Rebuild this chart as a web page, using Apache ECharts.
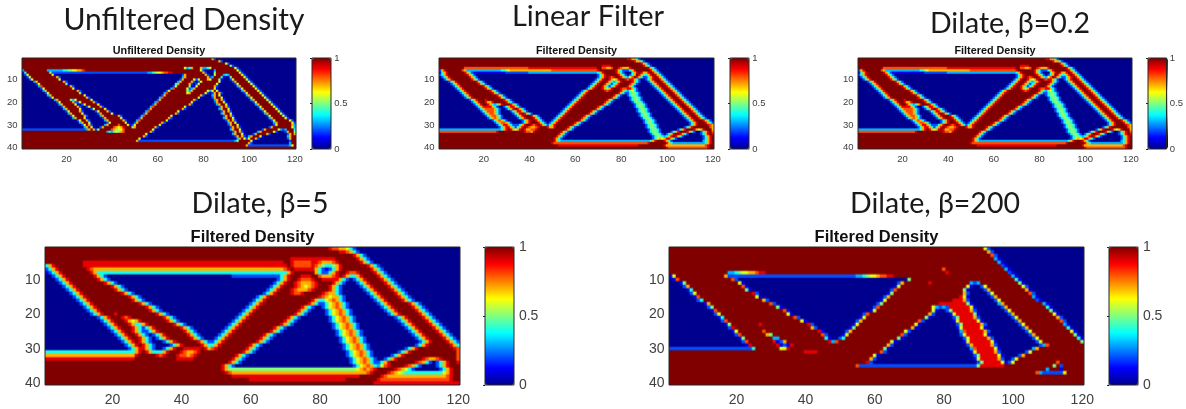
<!DOCTYPE html>
<html>
<head>
<meta charset="utf-8">
<title>Density filters</title>
<style>
  html, body { margin: 0; padding: 0; background: #fff; }
  #page { position: relative; width: 1186px; height: 409px; overflow: hidden; }
  #main { position: absolute; left: 0; top: 0; width: 1186px; height: 409px; z-index: 2; }
  .cells { position: absolute; transform-origin: 0 0; z-index: 1; }
</style>
</head>
<body>
<div id="page"><div id="main"></div></div>
<script src="https://cdn.jsdelivr.net/npm/echarts@6/dist/echarts.min.js"></script>
<script>
// every row is a list of "start column + levels", one letter per cell, a=0 ... k=1,
// the last letter of a token runs on to the next token
var unfilteredRows = [
  "1k84hca","1k87hca","1k90gca","1k92fca",
  "1k72gdeh76k79hddeg84k94gca",
  "1dk12dddddddeeffgghhijk79gcaaaadk95gca",
  "1bek13fc56ddefgghiijjk80hcaaafk96gca",
  "1acgk14gba71chk81hcaagk89dedk97gca",
  "1a3cgk16hca71dhk82hcdk88ebabfk98gca",
  "1a4cgk17gba70chk76gcgk82hgk87fba92cgk99gca",
  "1a6dhk19hca69dhk75hcacgk87gba93chk100gca",
  "1a7cgk20fba68ehk74hcacgk86gba94cgk101gca",
  "1a8dik22hca67cgk74fbbgk85hca95dhk102gca",
  "1a9cgk23gba66dik73gcdhk85gba96cgk103gca",
  "1a10dhk25hca64cgk73fdhk82gdgk86gba97dhk104gca",
  "1a11cgk26fba63dik73ghk81gcachk87hca98cgk105gca",
  "1a12dhk28gba62chk79hca84dhk87gba99dhk106gca",
  "1a13cgk29hca61dik78gba84chk88gba100cgk107gca",
  "1a15dhk22fdgk31gba60chk76hca85dhk88hca101dhk108gca",
  "1a16cgk23hccgk32hca59dik75gba85chk89gba102cgk109gca",
  "1a17dhk24gbacgk34gba58chk74hca86dhk90gba103dhk110gca",
  "1a18chk25hcaacgk35hca57dik72gba87chk90hca104cgk111gca",
  "1a19dhk26gbaaacgk37gba56chk71hca87dhk91gba105dhk112gca",
  "1a20cgk26hca33cgk38hca55dik69gba88chk91hca106cgk113gca",
  "1a21dhk27gba34chk40gba54chk68hca88dhk92gba107dhk114gca",
  "1a22cgk28hca35dhk43hca53dik66gba89chk92hca108cgk115gca",
  "1a23dhk28gba36chk44gba52chk65hca89dhk93gba109dhk116gca",
  "1a25cgk29hca37dhk45hca51dik64gba90chk93hca110cgk118gca",
  "1a26dhk30gba38cgk46gba50chk62hca91dhk94gba111dhk119gc",
  "1a27cgk30hca37dhk43ik47gbcgk61gba91chk95gba111cgk119hd",
  "1a28dhk31gba35chk41ihghjk49fhk59hca92chk95hca109chk119gd",
  "1c29dhk32hcfk40ihfggik58gba92dhk96gba106chk113gdcdk120e",
  "1k38dedfgfhik57hca93chk96hca104dhk111gca116chk120f",
  "1k55gba93dhk97gba102chk108hca117chk120h",
  "1k54hca94chk97hca100dhk105gba117dhk",
  "1k52gba95dhk98gcgk103hca117chk",
  "1k51hc94dfk101gba118ck",
  "1k100hca118dk",
  "1k99hc118dgk",
  "1k"
];

var linearRows = [
  "1k83jjhheca","1k86jhheca","1k89jheca",
  "1k72j76k90jheca",
  "1k12i40j70k72iihhik79jihhhjk92jheca",
  "1chjk11ihd28eefgh50i70j71k78jhecccehjk93jheca",
  "1behjk12jhecb30c40d70ehjk78jhecaaaehjk89jhhjk94jheca",
  "1cehjk13jheca70cehjk79jhecacehk88jheehjk95jheca",
  "1a2cehjk14jheca70cehjk75jijk80jhedgik87jheccehjk96jheca",
  "1a3cehjk15jheca69cehjk75jhghjk82jijk85jhecaacehjk97jheca",
  "1a5cehjk17jheca68cehjk74jhedehjk85jheca92cehjk98jheca",
  "1a6cehjk18jheca67cehjk73jhecehjk84jheca93cehjk99jheca",
  "1a7cehjk20jheca66cehjk72jhecehjk83jheca94cehjk100jheca",
  "1a8cehjk21jheca65cehjk72jhfhjk80jiijk84jheca95cehjk101jheca",
  "1a9cehjk23jheca63cehjk73jijk80jhedfgeca96cehjk102jheca",
  "1a10cehjk24jheca62cehjk79jhecceffeca97cehjk103jheca",
  "1a11cehjk26jheca61cehjk77jhecaaceffeca98cehjk104jheca",
  "1a12cehjk27jheca60cehjk76jheca84ceffeca99cehjk105jheca",
  "1a14cehjk21jk29jheca59cehjk74jheca84ceffeca100cehjk106jheca",
  "1a15cehjk21jhhjk30jheca58cehjk73jheca85ceffeca101cehjk107jheca",
  "1a16cehjk22jhedehjk32jheca57cehjk72jheca86ceffeca102cehjk108jheca",
  "1a17cehjj23jhecaacehjk33jheca56cehjk70jheca86ceffeca103cehjk109jheca",
  "1a18cehii24ihecaacehjk35jheca55cehjk69jheca87ceffeca104cehjk110jheca",
  "1a19cehi25heca32cehjk36jheca54cehjk67jheca87ceffeca105cehjk111jheca",
  "1a20cehiiheca33cehjk38jheca53cehjk66jheca88ceffeca106cehjk112jheca",
  "1a21cehiiheca34cehjk41jheca52cehjk64jheca88ceffeca107cehjk113jheca",
  "1a22cehiheca35cehjk42jheca51cehjk63jheca89ceffeca108cehjk114jheca",
  "1a24cehiheca37cehjk43jheca50cehjk62jheca90ceffeca109cehjk116jheca",
  "1a25cehiiheca37cehjk44jheca49cehjk60jheca90ceffeca110cehjk117jhec",
  "1a26cehjjhec35cehjk41jijk45jhecehjk59jheca91ceffeca110cehjk118jih",
  "1a27cehjjhec35ehjk39jihhijk48jhhjk57jheca91ceffeca108cehjk119ih",
  "1d28ehjk32jhghjk38jhhiijk56jheca92ceffeca105cehjk112jhghjk120h",
  "1i26jk38jiihjk54jheca92ceffeca102cehjk109jheca115cehjk120i",
  "1k53jheca93ceffeca100cehjk106jheca115cehjk120j",
  "1k52jheca94ceffedehjk104jheca116cehjk",
  "1k51jheca94ceghghjk101jheca116cehjk",
  "1k51jhed93ehjk99jheca116dehjk",
  "1k50ji92jk100jhed117ehjk",
  "1k53j88k99jh117ijk",
  "1k100ji118jk"
];

// the beta=0.2 panel reads the same as the linear filter at this size
var dilate02Rows = linearRows;

var dilate5Rows = [
  "1k83jiihhgeca","1k86jjiheca","1k90jheca",
  "1k72j85k91jheca",
  "1k12j70k72ji78j80ihhhijk92jheca",
  "1ehjk12j70jk72ji78j79ihfeefhjk94jheca",
  "1cehjk13jih70ijk73j79hecbcehjk95jheca",
  "1bcehjk14jhe71hjk79heccehjk88jiijk96jheca",
  "1a3cehjk15jheca55c69ehjk75j78k80ihhhijk87jheehjk97jheca",
  "1a4cehjk16jheca68cehjk74jiiijk81j85jhecacehjk98jheca",
  "1a5cehjk18jheca67cehjk73jihhhijk84jheca91cehjk99jheca",
  "1a6cehjk20jheca66cehjk73jihghijk83jheca92cehjk100jheca",
  "1a7cehjk21jheca65cehjk72jihhhijk83jheca93cehjk101jheca",
  "1a8cehjk23jheca64cehjk72jiijk81jihheca94cehjk102jheca",
  "1a9cehjk25jheca62cehjk80jihghheca95cehjk103jheca",
  "1a10cehjk26jheca61cehjk78jheeghiheca96cehjk104jheca",
  "1a11cehjk28jheca60cehjk77jhecceghiheca97cehjk106jheca",
  "1a12cehjk30jheca59cehjk75jheca81ceghiheca98cehjk107jheca",
  "1a13cehjk31jheca58cehjk74jheca82ceghiheca99cehjk108jheca",
  "1a14cehjk21jk33jheca57cehjk73jheca82ceghiheca100cehjk109jheca",
  "1a16cehjk23jijk35jheca56cehjk71jheca83ceghiheca102cehjk110jheca",
  "1a17cehjk24jhghjk36jheca55cehjk70jheca83ceghiheca103cehjk111jheca",
  "1a18cehjk25jheehjk38jheca54cehjk69jheca84ceghiheca104cehjk112jheca",
  "1a19cehjk26jhecehjk40jheca53cehjk67jheca84ceghiheca105cehjk113jheca",
  "1a20cehjk26jheccehjk41jheca52cehjk66jheca85ceghiheca106cehjk114jheca",
  "1a21cehjk27jhecacehjk42jheca51cehjk64jheca85ceghiheca107cehjk115jheca",
  "1a22cehjk28jhecacehjk43jheca50cehjk63jheca86ceghiheca108cehjk116jheca",
  "1a23cehjk28jhecaaacehjk45jheca49cehjk62jheca86ceghiheca109cehjk117jhec",
  "1a24cehjk29jhecaaaacehjk46jheehjk60jheca87ceghiheca108cehjk118jhe",
  "1a25cehjk29jhecaacehjk41j46k47jhijk59jheca87ceghiheca105cehjk119ji",
  "1e27hjk30jheeehjk40jihhijk58jheca88ceghiheca103cehjk120i",
  "1h27jk33jijk39jiihijk56jheca88ceghiheca101cehjk120i",
  "1j27k39j44k55jheca89ceghiheca99cehjk110jihhijk120i",
  "1k54jheca89ceghiheca97cehjk108jihecacehjk120j",
  "1k52jheca90ceghihedgijk105jiheca114cehjk",
  "1k52jhf91ghihijk102jihgeca115cehjk",
  "1k53jih94ijk100jihgfe116ghjk",
  "1k55j92k98jih117ijk",
  "1k60j88k97ji118jk",
  "1k96j"
];

var dilate200Rows = [
  "1k92gca","1k93hca","1k94ica","1k95dba","1k96dba","1k97cba",
  "1k80ik98dba",
  "1k18ddefgghhijjk81jk99cba",
  "1bgk17hc55ddefgghiijjk100dba",
  "1abik19ica70fk101eba",
  "1a4bfk21gba67chk76jk88dcdk102fba",
  "1a5chk22iba66bgk87gba91cgk103gca",
  "1a6bek23fba65cik86fba92chk104hba",
  "1a7cgk25jca64bfk86hca93cgk105ica",
  "1a8bik26gba63chk85jgba94chk106dba",
  "1a9cek28hca62bgk83j86hca95cgk107cba",
  "1a11bhk30ica61cfk79j87fba96dhk109dba",
  "1a12cfk32fba60cik77gdcdcj88gba97chk110eba",
  "1a13bik34iba59bgk77gba81cfj88hca98cgk111fba",
  "1a14cgk35gba57cik76hca82bgj89fba99chk112gba",
  "1a15bek37ica56bgk75fba83cfj89hca100cgk113hca",
  "1a16cik39gba55chk73ica83bgj90gba101chk114ica",
  "1a17bfk27jk41jca54bgk72gba84cfj91hca102cgk115dba",
  "1a18cjk42hca53bfk71hba84bgj91gba103chk116eba",
  "1a19bgk28ik44jba52chk69gca85dij92hca104cgk117gba",
  "1a20cik29hfk45ica51bgk68ica85cgj92gba105chk118fba",
  "1a21bfk31ddk46ebaacek67fba86cgj93hca106cgk119eb",
  "1a22cik31jbchk47jdik65gba86bgj94gba107cgk120f",
  "1a23bjk32jbcbjk64hca87chj94hca108cdik",
  "1c25ek33ggjk63fba88dij95gba106dhk",
  "1k40j44k62ica88bgj95hca104cgk",
  "1k60gba89cfj96gba102chk",
  "1k59hca89bgj96hca100cgk",
  "1k58jca90cfj97gbcgk113ik",
  "1k55ic90fj98k112fkck",
  "1k110dk114bk",
  "1k107idc115gk",
  "1k","1k","1k"
];

var xLabels = [];
var yLabels = [];
for (var i = 1; i <= 120; i++) { xLabels.push(String(i)); }
for (var j = 1; j <= 40; j++) { yLabels.push(String(j)); }

var jetColors = ['#00008f', '#0000ff', '#0080ff', '#00ffff', '#80ff80', '#ffff00', '#ff8000', '#ff0000', '#800000'];
var inkColor = '#404040';
var cellSize = 3;

var panels = [
  { rows: unfilteredRows, title: 'Unfiltered Density', left: 22, top: 58, width: 274, height: 91, barLeft: 312, barWidth: 19, font: 9.5, titleFont: 10.8, yMargin: 4.5 },
  { rows: linearRows, title: 'Filtered Density', left: 439, top: 58, width: 275, height: 91, barLeft: 730, barWidth: 19, font: 9.5, titleFont: 10.8, yMargin: 4.5 },
  { rows: dilate02Rows, title: 'Filtered Density', left: 858, top: 58, width: 274, height: 91, barLeft: 1148, barWidth: 20, font: 9.5, titleFont: 10.8, yMargin: 4.5 },
  { rows: dilate5Rows, title: 'Filtered Density', left: 45, top: 247, width: 415, height: 138, barLeft: 485, barWidth: 29, font: 14, titleFont: 16.5, yMargin: 4.5 },
  { rows: dilate200Rows, title: 'Filtered Density', left: 669, top: 247, width: 415, height: 138, barLeft: 1109, barWidth: 29, font: 14, titleFont: 16.5, yMargin: 4.5 }
];

var captions = [
  { text: 'Unfiltered Density', x: 184, y: 5, size: 30 },
  { text: 'Linear Filter', x: 588, y: 2, size: 29 },
  { text: 'Dilate, β=0.2', x: 1010, y: 9, size: 28.5 },
  { text: 'Dilate, β=5', x: 260, y: 189, size: 28.5 },
  { text: 'Dilate, β=200', x: 935, y: 189, size: 28.5 }
];

function expandRow (row) {
  var tokens = [];
  var re = /(\d+)([a-k]+)/g;
  var m;
  while ((m = re.exec(row))) {
    tokens.push({ start: parseInt(m[1], 10) - 1, letters: m[2] });
  }
  var cells = [];
  tokens.forEach(function (t, n) {
    var stop = n + 1 < tokens.length ? tokens[n + 1].start : 120;
    var last = t.letters.length - 1;
    for (var c = t.start; c < stop; c++) {
      var letter = t.letters.charAt(Math.min(c - t.start, last));
      cells[c] = (letter.charCodeAt(0) - 97) / 10;
    }
  });
  return cells;
}

function panelData (rows) {
  var data = [];
  rows.forEach(function (row, y) {
    expandRow(row).forEach(function (value, x) {
      data.push([x, y, value]);
    });
  });
  return data;
}

// each heatmap gets its own canvas with whole-pixel cells, scaled to its place
// on the page, the frame and labels stay crisp in the chart above it
function drawCells (p) {
  var div = document.createElement('div');
  div.className = 'cells';
  div.style.left = p.left + 'px';
  div.style.top = p.top + 'px';
  div.style.width = 120 * cellSize + 'px';
  div.style.height = 40 * cellSize + 'px';
  div.style.transform = 'scale(' + p.width / (120 * cellSize) + ',' + p.height / (40 * cellSize) + ')';
  document.getElementById('page').appendChild(div);
  echarts.init(div).setOption({
    animation: false,
    grid: { left: 0, top: 0, right: 0, bottom: 0 },
    xAxis: { type: 'category', data: xLabels, show: false },
    yAxis: { type: 'category', data: yLabels, inverse: true, show: false },
    visualMap: { show: false, dimension: 2, min: 0, max: 1, inRange: { color: jetColors } },
    series: [{ type: 'heatmap', data: panelData(p.rows), progressive: 0, emphasis: { disabled: true } }]
  });
}

var option = {
  animation: false,
  backgroundColor: 'transparent',
  title: [],
  grid: [],
  xAxis: [],
  yAxis: [],
  visualMap: [],
  series: []
};

captions.forEach(function (c) {
  option.title.push({
    text: c.text,
    left: c.x,
    top: c.y,
    textAlign: 'center',
    padding: 0,
    textStyle: { fontFamily: 'Lato', fontWeight: 'normal', fontSize: c.size, color: '#1a1a1a' }
  });
});

panels.forEach(function (p, n) {
  drawCells(p);
  option.title.push({
    text: p.title,
    left: p.left + p.width / 2,
    top: p.top - p.titleFont - 2,
    textAlign: 'center',
    padding: 0,
    textStyle: { fontFamily: 'Liberation Sans', fontWeight: 'bold', fontSize: p.titleFont, color: '#111' }
  });
  option.grid.push({
    left: p.left, top: p.top, width: p.width, height: p.height,
    show: true, backgroundColor: 'transparent', borderColor: '#262626', borderWidth: 1
  });
  option.xAxis.push({
    type: 'category', gridIndex: n, data: xLabels, boundaryGap: true,
    axisLine: { show: false },
    axisTick: { inside: true, length: 2, alignWithLabel: true, lineStyle: { color: '#262626' },
      interval: function (i, v) { return +v % 20 === 0; } },
    axisLabel: { color: inkColor, fontFamily: 'Liberation Sans', fontSize: p.font, margin: p.font * 0.6,
      interval: function (i, v) { return +v % 20 === 0; } },
    splitLine: { show: false }
  });
  option.yAxis.push({
    type: 'category', gridIndex: n, data: yLabels, inverse: true, boundaryGap: true,
    axisLine: { show: false },
    axisTick: { inside: true, length: 2, alignWithLabel: true, lineStyle: { color: '#262626' },
      interval: function (i, v) { return +v % 10 === 0; } },
    axisLabel: { color: inkColor, fontFamily: 'Liberation Sans', fontSize: p.font, margin: p.yMargin,
      interval: function (i, v) { return +v % 10 === 0; } },
    splitLine: { show: false }
  });
  option.series.push({ type: 'line', xAxisIndex: n, yAxisIndex: n, data: [] });
});

// colorbars: visualMap gradients with a frame and ticks on top
panels.forEach(function (p, n) {
  var g = panels.length + n;
  option.grid.push({
    left: p.barLeft, top: p.top, width: p.barWidth, height: p.height,
    show: true, z: 10, backgroundColor: 'transparent', borderColor: '#262626', borderWidth: 1
  });
  option.xAxis.push({ type: 'value', gridIndex: g, min: 0, max: 1, show: false });
  option.yAxis.push({
    type: 'value', gridIndex: g, min: 0, max: 1, interval: 0.5, position: 'right',
    axisLine: { show: false }, splitLine: { show: false },
    axisTick: { show: true, inside: true, length: 2, lineStyle: { color: '#262626' } },
    axisLabel: { color: inkColor, fontFamily: 'Liberation Sans', fontSize: p.font, margin: p.font * 0.35 },
    z: 11
  });
  option.series.push({ type: 'line', xAxisIndex: g, yAxisIndex: g, data: [] });
  option.visualMap.push({
    type: 'continuous', seriesIndex: g, dimension: 1, min: 0, max: 1,
    calculable: false, realtime: false, text: null, showLabel: false,
    left: p.barLeft, top: p.top, itemWidth: p.barWidth, itemHeight: p.height, padding: 0,
    inRange: { color: jetColors }
  });
});

var chart = echarts.init(document.getElementById('main'));
chart.setOption(option);
</script>
</body>
</html>
